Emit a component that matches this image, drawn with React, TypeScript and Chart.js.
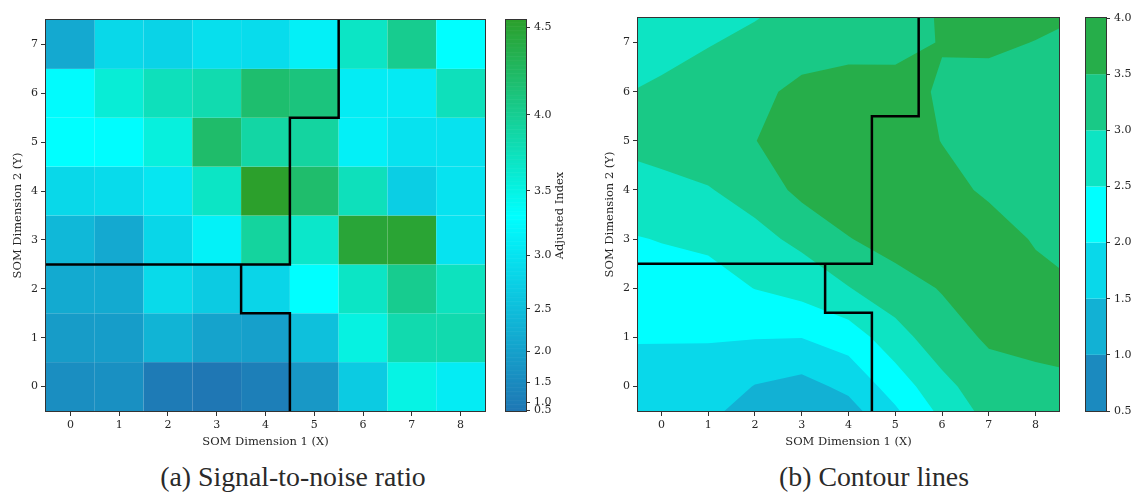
import React, { useEffect, useRef } from 'react';
import { Chart, registerables } from 'chart.js';

Chart.register(...registerables);

const FONT = "'DejaVu Serif', serif";
const TEXT = '#262626';
const FRAME = '#333333';

// ---------- data ----------
const xCategories = [0, 1, 2, 3, 4, 5, 6, 7, 8];
const yCategories = [0, 1, 2, 3, 4, 5, 6, 7];

// (a) Signal-to-noise heatmap, one array per SOM row (y = 0 at bottom), columns x = 0..8
const snrY0 = [1.58, 1.63, 0.88, 0.37, 1.08, 1.82, 2.69, 3.5, 3.1];
const snrY1 = [1.91, 1.93, 2.34, 2.05, 1.99, 2.53, 3.52, 3.84, 3.84];
const snrY2 = [2.18, 2.18, 2.88, 2.69, 2.82, 3.32, 3.7, 4.02, 3.74];
const snrY3 = [2.41, 2.16, 2.83, 3.17, 3.93, 3.67, 4.48, 4.5, 3.0];
const snrY4 = [2.86, 2.9, 3.03, 3.7, 4.54, 4.21, 3.76, 2.73, 3.0];
const snrY5 = [3.32, 3.3, 3.55, 4.22, 3.9, 3.92, 3.15, 2.98, 2.99];
const snrY6 = [3.28, 3.59, 3.76, 3.83, 4.2, 4.12, 3.1, 3.08, 3.76];
const snrY7 = [2.16, 2.86, 2.79, 2.95, 2.91, 3.15, 3.7, 4.02, 3.32];
const snrGrid = [snrY0, snrY1, snrY2, snrY3, snrY4, snrY5, snrY6, snrY7];
const snrTickValues = [0.5, 1.0, 1.5, 2.0, 2.5, 3.0, 3.5, 4.0, 4.5];
const snrColorbarLabel = 'Adjusted Index';

// (b) Contour field, one array per SOM row (y = 0 at bottom), columns x = 0..8
const contY0 = [1.8, 1.78, 1.48, 1.33, 1.62, 2.22, 2.85, 3.3, 3.35];
const contY1 = [2.03, 2.03, 2.02, 2.01, 2.23, 2.8, 3.3, 3.56, 3.65];
const contY2 = [2.28, 2.3, 2.51, 2.68, 2.98, 3.3, 3.53, 3.85, 3.75];
const contY3 = [2.52, 2.6, 2.85, 3.12, 3.48, 3.69, 3.8, 3.86, 3.43];
const contY4 = [2.85, 2.97, 3.2, 3.63, 3.8, 3.85, 3.75, 3.38, 3.25];
const contY5 = [3.2, 3.3, 3.49, 3.75, 3.85, 3.9, 3.48, 3.35, 3.2];
const contY6 = [3.1, 3.25, 3.4, 3.6, 3.7, 3.72, 3.43, 3.35, 3.3];
const contY7 = [2.8, 2.97, 3.12, 3.31, 3.34, 3.32, 3.53, 3.57, 3.49];
const contourGrid = [contY0, contY1, contY2, contY3, contY4, contY5, contY6, contY7];
const contourLevels = [0.5, 1.0, 1.5, 2.0, 2.5, 3.0, 3.5, 4.0];

// cluster boundaries (same on both panels)
const clusterLineA = [
  { x: -0.5, y: 2.5 }, { x: 4.5, y: 2.5 }, { x: 4.5, y: 5.5 }, { x: 5.5, y: 5.5 }, { x: 5.5, y: 7.5 },
];
const clusterLineB = [
  { x: 3.5, y: 2.5 }, { x: 3.5, y: 1.5 }, { x: 4.5, y: 1.5 }, { x: 4.5, y: -0.5 },
];

const xTitle = 'SOM Dimension 1 (X)';
const yTitle = 'SOM Dimension 2 (Y)';
const captionA = '(a) Signal-to-noise ratio';
const captionB = '(b) Contour lines';

// ---------- colour handling ----------
const cmapColors = ['#1f77b4', '#00ffff', '#2ca02c'];
function hexToRgb(h: string) {
  const n = parseInt(h.slice(1), 16);
  return [(n >> 16) & 255, (n >> 8) & 255, n & 255];
}
function cmap(f: number) {
  const g = Math.max(0, Math.min(1, f));
  const seg = g < 0.5 ? 0 : 1;
  const t = seg === 0 ? g / 0.5 : (g - 0.5) / 0.5;
  const a = hexToRgb(cmapColors[seg]);
  const b = hexToRgb(cmapColors[seg + 1]);
  const c = a.map((v, i) => Math.round(v + (b[i] - v) * t));
  return `rgb(${c[0]},${c[1]},${c[2]})`;
}
const snrAll = snrGrid.flat();
const snrMin = Math.min(...snrAll);
const snrMax = Math.max(...snrAll);
const GAMMA = 2;
const powerNorm = (v: number) => Math.pow(Math.max(0, (v - snrMin) / (snrMax - snrMin)), GAMMA);

const bandColors = contourLevels.slice(0, -1).map((lv, i) => {
  const mid = (lv + contourLevels[i + 1]) / 2;
  return cmap((mid - contourLevels[0]) / (contourLevels[contourLevels.length - 1] - contourLevels[0]));
});

// ---------- helpers ----------
type P = { x: number; y: number; v: number };
function lerpP(p: P, q: P, t: number): P {
  const k = (t - p.v) / (q.v - p.v);
  return { x: p.x + (q.x - p.x) * k, y: p.y + (q.y - p.y) * k, v: t };
}
function clipAbove(poly: P[], t: number): P[] {
  const out: P[] = [];
  for (let i = 0; i < poly.length; i++) {
    const p = poly[i];
    const q = poly[(i + 1) % poly.length];
    const pin = p.v >= t;
    const qin = q.v >= t;
    if (pin && qin) out.push(q);
    else if (pin && !qin) out.push(lerpP(p, q, t));
    else if (!pin && qin) {
      out.push(lerpP(p, q, t));
      out.push(q);
    }
  }
  return out;
}
// extend the field half a cell beyond the outer nodes (linear continuation) so the fill reaches the axes edges
function extendGrid(g: number[][]) {
  const ext = g.map((r) => [1.5 * r[0] - 0.5 * r[1], ...r, 1.5 * r[r.length - 1] - 0.5 * r[r.length - 2]]);
  const n = ext.length;
  const bottom = ext[0].map((v, i) => 1.5 * v - 0.5 * ext[1][i]);
  const top = ext[n - 1].map((v, i) => 1.5 * v - 0.5 * ext[n - 2][i]);
  return [bottom, ...ext, top];
}

const framePlugin = {
  id: 'frame',
  afterDatasetsDraw(chart: any) {
    const { ctx, chartArea: a } = chart;
    ctx.save();
    ctx.strokeStyle = FRAME;
    ctx.lineWidth = 1;
    ctx.strokeRect(a.left - 0.5, a.top - 0.5, a.right - a.left + 1, a.bottom - a.top + 1);
    ctx.restore();
  },
};

const heatmapPlugin = {
  id: 'heatmap',
  beforeDatasetsDraw(chart: any) {
    const { ctx } = chart;
    const xs = chart.scales.x;
    const ys = chart.scales.y;
    ctx.save();
    snrGrid.forEach((row, yi) =>
      row.forEach((v, xi) => {
        const x0 = xs.getPixelForValue(xCategories[xi] - 0.5);
        const x1 = xs.getPixelForValue(xCategories[xi] + 0.5);
        const y0 = ys.getPixelForValue(yCategories[yi] + 0.5);
        const y1 = ys.getPixelForValue(yCategories[yi] - 0.5);
        ctx.fillStyle = cmap(powerNorm(v));
        ctx.fillRect(x0, y0, x1 - x0, y1 - y0);
      })
    );
    ctx.restore();
  },
};

const contourPlugin = {
  id: 'contourf',
  beforeDatasetsDraw(chart: any) {
    const { ctx } = chart;
    const xs = chart.scales.x;
    const ys = chart.scales.y;
    const E = extendGrid(contourGrid);
    const cx = [xCategories[0] - 0.5, ...xCategories, xCategories[xCategories.length - 1] + 0.5];
    const cy = [yCategories[0] - 0.5, ...yCategories, yCategories[yCategories.length - 1] + 0.5];
    const addPoly = (c: P[]) => {
      if (c.length < 3) return;
      c.forEach((p, idx) => {
        const px = xs.getPixelForValue(p.x);
        const py = ys.getPixelForValue(p.y);
        if (idx === 0) ctx.moveTo(px, py);
        else ctx.lineTo(px, py);
      });
      ctx.closePath();
    };
    ctx.save();
    for (let k = 0; k < bandColors.length; k++) {
      const t = contourLevels[k];
      ctx.beginPath();
      for (let j = 0; j < cy.length - 1; j++) {
        for (let i = 0; i < cx.length - 1; i++) {
          const poly: P[] = [
            { x: cx[i], y: cy[j], v: E[j][i] },
            { x: cx[i + 1], y: cy[j], v: E[j][i + 1] },
            { x: cx[i + 1], y: cy[j + 1], v: E[j + 1][i + 1] },
            { x: cx[i], y: cy[j + 1], v: E[j + 1][i] },
          ];
          const ins = poly.map((p) => p.v >= t);
          const saddle = ins[0] === ins[2] && ins[1] === ins[3] && ins[0] !== ins[1];
          const centre = (poly[0].v + poly[1].v + poly[2].v + poly[3].v) / 4;
          if (saddle && centre < t) {
            // ambiguous cell, centre below level: keep the two high corners apart
            for (let s = 0; s < 4; s++) {
              if (!ins[s]) continue;
              const prev = poly[(s + 3) % 4];
              const next = poly[(s + 1) % 4];
              addPoly([lerpP(prev, poly[s], t), poly[s], lerpP(poly[s], next, t)]);
            }
          } else {
            addPoly(clipAbove(poly, t));
          }
        }
      }
      ctx.fillStyle = bandColors[k];
      ctx.fill('nonzero');
    }
    ctx.restore();
  },
};

const gradientBarPlugin = {
  id: 'gradientBar',
  beforeDatasetsDraw(chart: any) {
    const { ctx, chartArea: a } = chart;
    const ys = chart.scales.y;
    const N = 300;
    ctx.save();
    for (let i = 0; i < N; i++) {
      const f0 = i / N;
      const f1 = (i + 1) / N;
      const p0 = ys.getPixelForValue(f0);
      const p1 = ys.getPixelForValue(f1);
      ctx.fillStyle = cmap((f0 + f1) / 2);
      ctx.fillRect(a.left, p1 - 0.3, a.right - a.left, p0 - p1 + 0.6);
    }
    ctx.restore();
  },
  afterDraw(chart: any) {
    const { ctx, chartArea: a } = chart;
    ctx.save();
    ctx.translate(a.right + 34.5, (a.top + a.bottom) / 2);
    ctx.rotate(-Math.PI / 2);
    ctx.fillStyle = TEXT;
    ctx.font = `11.5px ${FONT}`;
    ctx.textAlign = 'center';
    ctx.textBaseline = 'middle';
    ctx.fillText(snrColorbarLabel, 0, 0);
    ctx.restore();
  },
};

const bandBarPlugin = {
  id: 'bandBar',
  beforeDatasetsDraw(chart: any) {
    const { ctx, chartArea: a } = chart;
    const ys = chart.scales.y;
    ctx.save();
    bandColors.forEach((col, k) => {
      const p0 = ys.getPixelForValue(contourLevels[k]);
      const p1 = ys.getPixelForValue(contourLevels[k + 1]);
      ctx.fillStyle = col;
      ctx.fillRect(a.left, p1, a.right - a.left, p0 - p1);
    });
    ctx.restore();
  },
};

function panelAxis(axis: 'x' | 'y', cats: number[], fixed: number, title: string, titlePad: any) {
  return {
    type: 'linear',
    position: axis === 'x' ? 'bottom' : 'left',
    min: cats[0] - 0.5,
    max: cats[cats.length - 1] + 0.5,
    afterBuildTicks: (s: any) => {
      s.ticks = cats.map((v) => ({ value: v }));
    },
    afterFit: (s: any) => {
      if (axis === 'x') s.height = fixed;
      else s.width = fixed;
    },
    ticks: {
      autoSkip: false,
      maxRotation: 0,
      minRotation: 0,
      color: TEXT,
      font: { family: FONT, size: 11 },
      padding: 3,
      callback: (v: any) => String(v),
    },
    grid: { display: true, drawOnChartArea: false, drawTicks: true, tickLength: 5, color: FRAME, tickWidth: 1 },
    border: { display: false },
    title: { display: true, text: title, color: TEXT, font: { family: FONT, size: 11.5 }, padding: titlePad },
  };
}

function lineDatasets() {
  return [clusterLineA, clusterLineB].map((d) => ({
    data: d,
    showLine: true,
    borderColor: '#000000',
    borderWidth: 2.5,
    pointRadius: 0,
    tension: 0,
    fill: false,
    borderJoinStyle: 'miter',
  }));
}

const common = {
  responsive: false,
  maintainAspectRatio: false,
  animation: false,
  events: [],
  plugins: { legend: { display: false }, tooltip: { enabled: false }, title: { display: false } },
};

function panelConfig(plugin: any, top: number, right: number, yWidth: number, yTitlePad: number) {
  return {
    type: 'scatter',
    data: { datasets: lineDatasets() },
    options: {
      ...common,
      layout: { padding: { left: 0, top, right, bottom: 0 } },
      scales: {
        x: panelAxis('x', xCategories, 38, xTitle, { top: 0, bottom: 0 }),
        y: panelAxis('y', yCategories, yWidth, yTitle, { top: yTitlePad, bottom: 0 }),
      },
    },
    plugins: [plugin, framePlugin],
  } as any;
}

function colorbarConfig(plugin: any, top: number, width: number, yMin: number, yMax: number, tickVals: number[], tickPos: (v: number) => number) {
  return {
    type: 'scatter',
    data: { datasets: [] },
    options: {
      ...common,
      layout: { padding: { left: 6, top, right: 0, bottom: 38 } },
      scales: {
        x: { display: false, min: 0, max: 1 },
        y: {
          type: 'linear',
          position: 'right',
          min: yMin,
          max: yMax,
          afterBuildTicks: (s: any) => {
            s.ticks = tickVals.map((v) => ({ value: tickPos(v) }));
          },
          afterFit: (s: any) => {
            s.width = width;
          },
          ticks: {
            autoSkip: false,
            color: TEXT,
            font: { family: FONT, size: 11 },
            padding: 4,
            callback: (_v: any, i: number) => tickVals[i].toFixed(1),
          },
          grid: { display: true, drawOnChartArea: false, drawTicks: true, tickLength: 4, color: FRAME, tickWidth: 1 },
          border: { display: false },
        },
      },
    },
    plugins: [plugin, framePlugin],
  } as any;
}

export default function App() {
  const refA = useRef<HTMLCanvasElement>(null);
  const refACb = useRef<HTMLCanvasElement>(null);
  const refB = useRef<HTMLCanvasElement>(null);
  const refBCb = useRef<HTMLCanvasElement>(null);

  useEffect(() => {
    const charts: Chart[] = [];
    charts.push(new Chart(refA.current!, panelConfig(heatmapPlugin, 20, 15, 46, 11.1)));
    charts.push(
      new Chart(refACb.current!, colorbarConfig(gradientBarPlugin, 20, 64, 0, 1, snrTickValues, powerNorm))
    );
    charts.push(new Chart(refB.current!, panelConfig(contourPlugin, 18, 15, 48, 12.8)));
    charts.push(
      new Chart(
        refBCb.current!,
        colorbarConfig(bandBarPlugin, 18, 27, contourLevels[0], contourLevels[contourLevels.length - 1], contourLevels, (v) => v)
      )
    );
    return () => charts.forEach((c) => c.destroy());
  }, []);

  const abs = (left: number, w: number, h: number) => ({
    position: 'absolute' as const,
    left,
    top: 0,
    width: w,
    height: h,
  });
  const caption = (center: number) => ({
    position: 'absolute' as const,
    left: center - 250,
    width: 500,
    top: 463,
    textAlign: 'center' as const,
    fontFamily: "'Liberation Serif', serif",
    fontSize: 27.8,
    lineHeight: '28px',
    color: '#2a2a2a',
    whiteSpace: 'nowrap' as const,
  });

  return (
    <div style={{ position: 'absolute', left: 0, top: 0, width: 1133, height: 498, background: '#ffffff', overflow: 'hidden' }}>
      <canvas ref={refA} width={500} height={449} style={abs(0, 500, 449)} />
      <canvas ref={refACb} width={90} height={449} style={abs(500, 90, 449)} />
      <canvas ref={refB} width={484} height={449} style={abs(590, 484, 449)} />
      <canvas ref={refBCb} width={53} height={449} style={abs(1080, 53, 449)} />
      <div style={caption(293)}>{captionA}</div>
      <div style={caption(874)}>{captionB}</div>
    </div>
  );
}
